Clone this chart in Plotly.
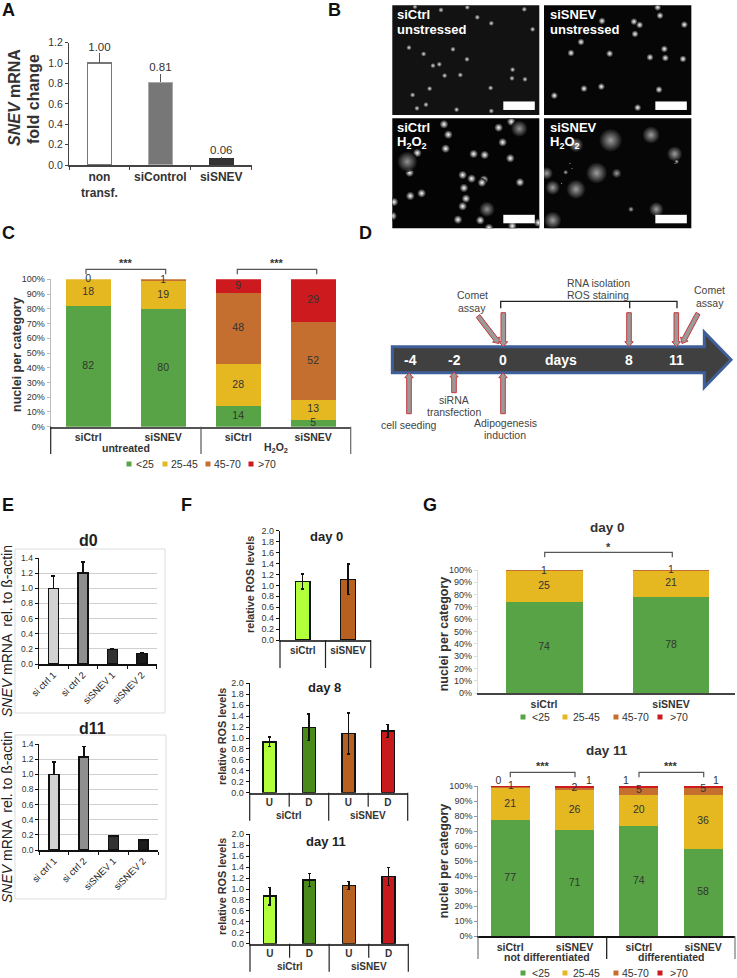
import plotly.graph_objects as go

W, H = 737, 978
FONT = "Liberation Sans"
DARK = "#333333"

# A: SNEV knockdown
a_labels = ["<b>non<br>transf.</b>", "<b>siControl</b>", "<b>siSNEV</b>"]
a_values = [1.00, 0.81, 0.06]
a_err = [0.095, 0.085, 0.015]
a_text = ["1.00", "0.81", "0.06"]
a_colors = ["#ffffff", "#777777", "#333333"]
a_edges = ["#777777", "#aaaaaa", "#333333"]

# C: comet categories, untreated / H2O2
cat_names = ["<25", "25-45", "45-70", ">70"]
cat_colors = ["#58a345", "#e5b822", "#c46e2f", "#cc1a1e"]
pct_ticks = [0, 10, 20, 30, 40, 50, 60, 70, 80, 90, 100]
pct_labels = ["0%", "10%", "20%", "30%", "40%", "50%", "60%", "70%", "80%", "90%", "100%"]
c_labels = ["<b>siCtrl</b>", "<b>siSNEV</b>", "<b>siCtrl</b>", "<b>siSNEV</b>"]
c_lt25 = [82.0, 79.7, 14.0, 4.8]
c_25_45 = [18.0, 19.3, 28.6, 13.3]
c_45_70 = [0.0, 1.0, 48.4, 52.9]
c_gt70 = [0.0, 0.0, 9.0, 29.0]
c_text = [["82", "80", "14", "5"], ["18", "19", "28", "13"], ["0", "1", "48", "52"], [None, None, "9", "29"]]

# E: qPCR
e_labels = ["si ctrl 1", "si ctrl 2", "siSNEV 1", "siSNEV 2"]
e_colors = ["#d2d2d2", "#8f8f8f", "#333333", "#1c1c1c"]
e_d0 = [1.00, 1.20, 0.19, 0.14]
e_d0_err = [0.16, 0.145, 0.012, 0.012]
e_d11 = [1.00, 1.23, 0.185, 0.13]
e_d11_err = [0.16, 0.135, 0.008, 0.012]

# F: ROS
f_day0_labels = ["<b>siCtrl</b>", "<b>siSNEV</b>"]
f_day0 = [1.07, 1.11]
f_day0_err = [0.14, 0.28]
f_day0_colors = ["#b2ff3c", "#b8601f"]
f_ud_labels = ["<b>U</b>", "<b>D</b>", "<b>U</b>", "<b>D</b>"]
f_colors = ["#b2ff3c", "#4a8a1a", "#b8601f", "#c8191c"]
f_day8 = [0.93, 1.195, 1.085, 1.13]
f_day8_err = [0.09, 0.245, 0.375, 0.12]
f_day11 = [0.87, 1.165, 1.065, 1.23]
f_day11_err = [0.16, 0.12, 0.07, 0.165]

# G: comet categories during differentiation
g0_labels = ["<b>siCtrl</b>", "<b>siSNEV</b>"]
g0_lt25 = [74.3, 78.4]
g0_25_45 = [25.0, 21.0]
g0_45_70 = [0.7, 0.6]
g0_text = [["74", "78"], ["25", "21"]]
g0_top_text = ["1", "1"]
g11_labels = ["<b>siCtrl</b>", "<b>siSNEV</b>", "<b>siCtrl</b>", "<b>siSNEV</b>"]
g11_lt25 = [77.4, 70.5, 73.4, 58.3]
g11_25_45 = [21.3, 26.6, 20.6, 35.9]
g11_45_70 = [1.0, 2.2, 4.7, 4.7]
g11_gt70 = [0.3, 0.7, 1.3, 1.1]
g11_text = [["77", "71", "74", "58"], ["21", "26", "20", "36"]]
g11_top_x = [-0.185, 0.01, 1.0, 1.225, 1.8, 2.0, 3.0, 3.2]
g11_top_y = [103, 100, 98.4, 103, 103, 97, 97.5, 103]
g11_top_text = ["0", "1", "2", "1", "1", "5", "5", "1"]

# B: nuclei seen in the micrographs (image units)
b1_x = [135, 213, 292, 463, 322, 364, 488, 117, 161, 249, 291, 189, 208, 224, 271, 428, 426, 465, 179, 362, 128, 168, 141, 260, 364]
b1_y = [20, 30, 22, 28, 52, 70, 88, 143, 162, 148, 178, 197, 193, 227, 225, 209, 235, 238, 266, 264, 285, 314, 325, 329, 333]
b2_x = [863, 870, 696, 792, 809, 943, 795, 633, 603, 719, 883, 840, 886, 939, 642, 694, 867, 553, 803]
b2_y = [22, 47, 63, 65, 75, 74, 102, 126, 159, 161, 147, 172, 174, 177, 266, 260, 269, 287, 323]
b3_x = [222, 235, 424, 386, 398, 227, 142, 311, 344, 421, 119, 278, 305, 342, 336, 450, 282, 121, 155, 288, 278, 72, 264, 331, 68, 505, 357, 427]
b3_y = [373, 404, 365, 383, 427, 446, 459, 462, 465, 475, 518, 525, 536, 539, 548, 547, 564, 588, 580, 596, 619, 606, 659, 661, 648, 668, 684, 678]
b3_big_x = [448, 112, 351]
b3_big_y = [386, 485, 628]
b3_big_s = [17, 21, 16]
b4_x = [920, 587, 783, 600, 606, 575, 915]
b4_y = [485, 517, 628, 490, 505, 550, 490]
b4_s = [5, 5, 6, 2, 2, 2, 2]
b4_big_x = [722, 843, 618, 914, 680, 530, 740, 548, 618, 859, 548]
b4_big_y = [421, 405, 435, 462, 519, 520, 520, 563, 568, 628, 661]
b4_big_s = [24, 18, 15, 16, 22, 13, 10, 15, 20, 15, 18]

fig = go.Figure()
layout_axes = {}
shapes = []
annotations = []
axis_count = 1


def new_axes(x0, x1, ytop, ybot, xrange, yrange, xopts=None, yopts=None):
    """Axes placed by page pixels; returns the trace refs"""
    global axis_count
    axis_count += 1
    n = axis_count
    xa = dict(domain=[x0 / W, x1 / W], anchor=f"y{n}", range=xrange, showgrid=False, zeroline=False, visible=False)
    ya = dict(domain=[1 - ybot / H, 1 - ytop / H], anchor=f"x{n}", range=yrange, showgrid=False, zeroline=False, visible=False)
    if xopts:
        xa.update(visible=True, **xopts)
    if yopts:
        ya.update(visible=True, **yopts)
    layout_axes[f"xaxis{n}"] = xa
    layout_axes[f"yaxis{n}"] = ya
    return f"x{n}", f"y{n}"


def note(x, y, text, size=10.5, color=DARK, angle=0, anchor="center"):
    annotations.append(dict(x=x, y=y, xref="x", yref="y", text=text, showarrow=False, textangle=angle, xanchor=anchor,
                            yanchor="middle", font=dict(family=FONT, size=size, color=color)))


def line(x0, y0, x1, y1, color="#444444", width=1.2):
    shapes.append(dict(type="line", x0=x0, y0=y0, x1=x1, y1=y1, xref="x", yref="y", line=dict(color=color, width=width)))


def bracket(x0, x1, ytop, ybot, color="#555555", width=1.2):
    shapes.append(dict(type="path", path=f"M{x0},{ybot} L{x0},{ytop} L{x1},{ytop} L{x1},{ybot}", xref="x", yref="y",
                       line=dict(color=color, width=width)))


def x_opts(vals, labels, size, boundaries=None, line_color="#444444", angle=0, color=DARK):
    opts = dict(tickmode="array", tickvals=vals, ticktext=labels, ticks="", showline=True, linecolor=line_color, linewidth=1.5,
                tickangle=angle, tickfont=dict(family=FONT, size=size, color=color))
    if boundaries:
        opts["minor"] = dict(tickmode="array", tickvals=boundaries, ticks="outside", ticklen=3, tickcolor=line_color, tickwidth=1.2)
    return opts


def y_opts(vals, size, labels=None, line_color="#444444", grid=False):
    opts = dict(tickmode="array", tickvals=vals, tickformat=".1f", ticks="outside", ticklen=3, tickwidth=1,
                tickcolor=line_color, showline=True, linecolor=line_color, linewidth=1.2, showgrid=grid, gridcolor="#cfcfcf",
                tickfont=dict(family=FONT, size=size, color=DARK))
    if labels:
        opts["ticktext"] = labels
    return opts


def text_trace(xref, yref, xs, ys, labels, size=10.5, pos="middle center"):
    keep = [i for i, t in enumerate(labels) if t]
    fig.add_trace(go.Scatter(x=[xs[i] for i in keep], y=[ys[i] for i in keep], text=[labels[i] for i in keep], mode="text", textposition=pos,
                             cliponaxis=False, hoverinfo="skip", textfont=dict(family=FONT, size=size, color=DARK), xaxis=xref, yaxis=yref))


def bars(xref, yref, values, err, colors, width, edge="#111111", edge_w=1.5, err_w=1.5, cap=2, lower=True, err_color="#111111"):
    xs = list(range(len(values)))
    fig.add_trace(go.Bar(x=xs, y=values, width=width, xaxis=xref, yaxis=yref, marker=dict(color=colors, line=dict(color=edge, width=edge_w)),
                         error_y=dict(type="data", symmetric=False, array=err, arrayminus=err if lower else [0] * len(err),
                                      color=err_color, thickness=err_w, width=cap)))


def stacks(xref, yref, series, width):
    xs = list(range(len(series[0])))
    for vals, color in zip(series, cat_colors):
        fig.add_trace(go.Bar(x=xs, y=vals, width=width, xaxis=xref, yaxis=yref, marker=dict(color=color, line=dict(width=0))))


def spots(xref, yref, xs, ys, sizes, color, fade="#000000"):
    # for a radial gradient plotly paints gradient.color in the centre
    fig.add_trace(go.Scatter(x=xs, y=ys, mode="markers", xaxis=xref, yaxis=yref, hoverinfo="skip",
                             marker=dict(size=sizes, color=fade, line=dict(width=0), gradient=dict(type="radial", color=color))))


def block_arrow(x0, y0, x1, y1, shaft=4.6, head=8.5, head_len=5):
    # gray arrow with red outline, from (x0,y0) with the tip at (x1,y1)
    dx, dy = x1 - x0, y1 - y0
    d = (dx * dx + dy * dy) ** 0.5
    ux, uy = dx / d, dy / d
    px, py = -uy, ux
    bx, by = x1 - ux * head_len, y1 - uy * head_len
    pts = [(x0 + px * shaft / 2, y0 + py * shaft / 2), (bx + px * shaft / 2, by + py * shaft / 2), (bx + px * head / 2, by + py * head / 2),
           (x1, y1), (bx - px * head / 2, by - py * head / 2), (bx - px * shaft / 2, by - py * shaft / 2), (x0 - px * shaft / 2, y0 - py * shaft / 2)]
    path = "M" + " L".join(f"{a:.1f},{b:.1f}" for a, b in pts) + " Z"
    shapes.append(dict(type="path", path=path, xref="x", yref="y", fillcolor="#9a9a9a", line=dict(color="#c8383c", width=1)))


def legend_row(y, square_x, text_x, size=10.5):
    fig.add_trace(go.Scatter(x=square_x, y=[y] * 4, mode="markers", hoverinfo="skip", xaxis="x", yaxis="y",
                             marker=dict(symbol="square", size=5, color=cat_colors)))
    for tx, name in zip(text_x, cat_names):
        note(tx - 1.5, y, name.replace("<", "&lt;"), size=size, anchor="left")


# panel letters
for lx, ly, letter in [(0, 10, "A"), (326, 10, "B"), (0, 233, "C"), (357, 233, "D"), (0, 505, "E"), (179, 505, "F"), (421, 505, "G")]:
    note(lx, ly, f"<b>{letter}</b>", size=18, color="#111111", anchor="left")

# A
xr, yr = new_axes(69, 251.7, 42.7, 165, [-0.5, 2.5], [0, 1.2],
                  x_opts([0, 1, 2], a_labels, 12, [-0.5, 0.5, 1.5, 2.5]), y_opts([0, 0.2, 0.4, 0.6, 0.8, 1.0, 1.2], 10.5))
fig.add_trace(go.Bar(x=[0, 1, 2], y=a_values, width=0.39, xaxis=xr, yaxis=yr, marker=dict(color=a_colors, line=dict(color=a_edges, width=1.2)),
                     error_y=dict(type="data", symmetric=False, array=a_err, arrayminus=[0, 0, 0], color="#555555", thickness=1, width=0)))
text_trace(xr, yr, [0, 1, 2], [v + e for v, e in zip(a_values, a_err)], a_text, size=11.5, pos="top center")
note(14, 98, "<b><i>SNEV</i> mRNA</b>", size=16, angle=-90)
note(33, 99, "<b>fold change</b>", size=16, angle=-90)

# B
panels = [(392.3, 5.3, 67, 508, 16, 345, "#121212"), (544, 5.3, 522, 964, 16, 345, "#060606"),
          (392.3, 118.3, 67, 508, 355, 685, "#040404"), (544, 118.3, 522, 964, 355, 685, "#060606")]
axes_b = []
for px0, py0, ix0, ix1, iy0, iy1, bg in panels:
    w, h = (ix1 - ix0) / 3, (iy1 - iy0) / 3
    shapes.append(dict(type="rect", x0=px0, x1=px0 + w, y0=py0, y1=py0 + h, xref="x", yref="y", fillcolor=bg, line=dict(width=0), layer="below"))
    axes_b.append(new_axes(px0, px0 + w, py0, py0 + h, [ix0, ix1], [iy1, iy0]))
    bar_x1 = px0 + w - 4.5
    shapes.append(dict(type="rect", x0=bar_x1 - 31.5, x1=bar_x1, y0=py0 + h - 13.5, y1=py0 + h - 5, xref="x", yref="y", fillcolor="#ffffff", line=dict(width=0)))
spots(*axes_b[0], b1_x, b1_y, 5.5, "#e0e0e0", fade="#121212")
spots(*axes_b[1], b2_x, b2_y, 7.5, "#ffffff")
spots(*axes_b[2], b3_x, b3_y, 9, "#ffffff")
spots(*axes_b[2], b3_big_x, b3_big_y, b3_big_s, "#d0d0d0")
spots(*axes_b[3], b4_big_x, b4_big_y, b4_big_s, "#e0e0e0")
spots(*axes_b[3], b4_x, b4_y, b4_s, "#ffffff")
for bx, by, t1, t2 in [(394.5, 14.3, "siCtrl", "unstressed"), (548.2, 14.3, "siSNEV", "unstressed"),
                       (394.5, 127, "siCtrl", "H<sub>2</sub>O<sub>2</sub>"), (548.2, 127, "siSNEV", "H<sub>2</sub>O<sub>2</sub>")]:
    note(bx, by, f"<b>{t1}</b>", size=13, color="#ffffff", anchor="left")
    note(bx, by + 15, f"<b>{t2}</b>", size=13, color="#ffffff", anchor="left")

# C
xr, yr = new_axes(50.7, 350.7, 279.3, 426.7, [-0.5, 3.5], [0, 100],
                  x_opts([0, 1, 2, 3], c_labels, 10.5, line_color="#555555"),
                  y_opts(pct_ticks, 9, labels=pct_labels, line_color="#bbbbbb"))
c_series = [c_lt25, c_25_45, c_45_70, c_gt70]
stacks(xr, yr, c_series, 0.6)
for i, vals in enumerate(c_series):
    mids = [sum(s[k] for s in c_series[:i]) + vals[k] / 2 for k in range(4)]
    text_trace(xr, yr, [0, 1, 2, 3], mids, c_text[i])
note(17, 355, "<b>nuclei per category</b>", size=12.5, angle=-90)
note(125.7, 448.3, "<b>untreated</b>", size=10.5)
note(276, 448.3, "<b>H<sub>2</sub>O<sub>2</sub></b>", size=10.5)
line(50.7, 426.7, 50.7, 454, color="#222222")
line(201, 426.7, 201, 454, color="#555555")
line(350.7, 426.7, 350.7, 454, color="#666666")
bracket(86, 165.7, 269.3, 274.3)
bracket(237.3, 316.7, 269.3, 274.3)
note(125.7, 263, "<b>***</b>", size=11)
note(277, 263, "<b>***</b>", size=11)
legend_row(464, [129, 165, 208, 251], [135, 170.7, 213.7, 257])

# D
shapes.append(dict(type="path", path="M392.3,346.7 L704.3,346.7 L704.3,332.3 L731,359.7 L704.3,387.3 L704.3,372.7 L392.3,372.7 Z", xref="x", yref="y",
                   fillcolor="#404040", line=dict(color="#3f5f9a", width=3)))
for dx, dy, dt in [(410, 360.3, "-4"), (454.7, 360.3, "-2"), (503.3, 360.3, "0"), (561.3, 360.3, "days"), (629.3, 360.3, "8"), (676.3, 360.3, "11")]:
    note(dx, dy, f"<b>{dt}</b>", size=14, color="#ffffff")
for ax0, ay0, ax1, ay1 in [(503.3, 312.7, 503.3, 346.7), (629, 312.7, 629, 346.7), (676.3, 312.7, 676.3, 346.7),
                           (409, 413.7, 409, 372.7), (454, 392.7, 454, 372), (503, 413.7, 503, 372.7),
                           (478, 316, 499, 343.5), (698, 313.5, 682, 343.5)]:
    block_arrow(ax0, ay0, ax1, ay1)
shapes.append(dict(type="path", path="M500.7,308.3 L500.7,301.3 L677,301.3 L677,308.3 M629.7,301.3 L629.7,308.3", xref="x", yref="y",
                   line=dict(color="#222222", width=1.3)))
for dx, dy, dt in [(598, 283, "RNA isolation"), (597.5, 295.3, "ROS staining"), (472, 295, "Comet"), (472, 307.7, "assay"), (709.7, 290.3, "Comet"),
                   (709.7, 302.7, "assay"), (454.3, 400, "siRNA"), (454.3, 412.3, "transfection"), (409, 425, "cell seeding"),
                   (505, 423.3, "Adipogenesis"), (505, 435.3, "induction")]:
    note(dx, dy, dt, size=10.5, color="#444444")

# E
e_ticks = [0, 0.2, 0.4, 0.6, 0.8, 1.0, 1.2, 1.4]
for fx0, fy0, fx1, fy1, ax0, ax1, ay0, ay1, vals, errs, ttl, tx, ty, ey in [
        (15, 549, 165, 713, 38.7, 156.7, 558, 664, e_d0, e_d0_err, "d0", 88, 540, 631),
        (15, 735, 166, 899, 39.3, 158, 744, 850, e_d11, e_d11_err, "d11", 92, 728, 817)]:
    shapes.append(dict(type="rect", x0=fx0, x1=fx1, y0=fy0, y1=fy1, xref="x", yref="y", line=dict(color="#dddddd", width=1), layer="below"))
    xr, yr = new_axes(ax0, ax1, ay0, ay1, [-0.5, 3.5], [0, 1.4],
                      x_opts([0, 1, 2, 3], e_labels, 9.5, [-0.5, 0.5, 1.5, 2.5, 3.5], line_color="#111111", angle=-45, color="#222222"),
                      y_opts(e_ticks, 8.5, line_color="#111111", grid=True))
    bars(xr, yr, vals, errs, e_colors, 0.33, lower=False, cap=2)
    note(tx, ty, f"<b>{ttl}</b>", size=16, color="#222222")
    note(7, ey, "<i>SNEV</i> mRNA  rel. to ß-actin", size=14, color="#222222", angle=-90)

# F
f_ticks = [0, 0.2, 0.4, 0.6, 0.8, 1.0, 1.2, 1.4, 1.6, 1.8, 2.0]
xr, yr = new_axes(280, 370.7, 530.7, 640, [-0.5, 1.5], [0, 2.0], x_opts([0, 1], f_day0_labels, 10), y_opts(f_ticks, 9, line_color="#111111"))
bars(xr, yr, f_day0, f_day0_err, f_day0_colors, 0.325, cap=1.5)
note(326, 536, "<b>day 0</b>", size=13, color="#222222")
note(250, 585, "<b>relative ROS levels</b>", size=10.8, angle=-90)
for lx in [280, 325.5, 370.7]:
    line(lx, 640, lx, 668, color="#222222")

for ax0, ax1, ay0, ay1, vals, errs, ttl, tx, ty, ycen in [
        (249.7, 407.7, 683.3, 792.7, f_day8, f_day8_err, "day 8", 324.7, 687, 737),
        (250, 408.3, 834.3, 943.7, f_day11, f_day11_err, "day 11", 326, 841.7, 887)]:
    xr, yr = new_axes(ax0, ax1, ay0, ay1, [-0.5, 3.5], [0, 2.0], x_opts([0, 1, 2, 3], f_ud_labels, 10), y_opts(f_ticks, 9, line_color="#111111"))
    bars(xr, yr, vals, errs, f_colors, 0.32, cap=1.5)
    note(tx, ty, f"<b>{ttl}</b>", size=13, color="#222222")
    note(222, ycen, "<b>relative ROS levels</b>", size=10.8, angle=-90)
    mid = (ax0 + ax1) / 2
    quarter = (ax1 - ax0) / 4
    for lx in [ax0 + quarter, ax1 - quarter]:
        line(lx, ay1, lx, ay1 + 14, color="#222222")
    for lx in [ax0, mid, ax1]:
        line(lx, ay1, lx, ay1 + 28, color="#222222")
    note(ax0 + quarter, ay1 + 23, "<b>siCtrl</b>", size=10)
    note(ax1 - quarter, ay1 + 23, "<b>siSNEV</b>", size=10)

# G day 0
xr, yr = new_axes(478, 735, 570, 693.3, [-0.52, 1.504], [0, 100],
                  x_opts([0, 1], g0_labels, 10.5, line_color="#444444"),
                  y_opts(pct_ticks, 9, labels=pct_labels, line_color="#dddddd"))
g0_series = [g0_lt25, g0_25_45, g0_45_70]
stacks(xr, yr, g0_series, 0.606)
text_trace(xr, yr, [0, 1], [g / 2 for g in g0_lt25], g0_text[0])
text_trace(xr, yr, [0, 1], [g + y / 2 for g, y in zip(g0_lt25, g0_25_45)], g0_text[1])
text_trace(xr, yr, [0, 1], [99, 100], g0_top_text)
note(607, 527.7, "<b>day 0</b>", size=13.5)
bracket(544.7, 672.3, 552.3, 557.3)
note(608.3, 546.7, "<b>*</b>", size=11)
note(444.3, 634, "<b>nuclei per category</b>", size=12.5, angle=-90)
legend_row(717, [523, 565, 616, 660], [531, 572.7, 621.7, 669.3])

# G day 11
xr, yr = new_axes(478.3, 735, 786, 936.3, [-0.496, 3.496], [0, 100],
                  x_opts([0, 1, 2, 3], g11_labels, 10.5, line_color="#111111"),
                  y_opts(pct_ticks, 9, labels=pct_labels, line_color="#999999"))
g11_series = [g11_lt25, g11_25_45, g11_45_70, g11_gt70]
stacks(xr, yr, g11_series, 0.607)
text_trace(xr, yr, [0, 1, 2, 3], [g / 2 for g in g11_lt25], g11_text[0])
text_trace(xr, yr, [0, 1, 2, 3], [g + y / 2 for g, y in zip(g11_lt25, g11_25_45)], g11_text[1])
# the small labels stand above 100%, so they get a taller twin of this plot area
xt, yt = new_axes(478.3, 735, 936.3 - 150.3 * 1.06, 936.3, [-0.496, 3.496], [0, 106])
text_trace(xt, yt, g11_top_x, g11_top_y, g11_top_text)
note(607.3, 750, "<b>day 11</b>", size=13.5)
bracket(510.3, 575, 772.3, 777.3)
bracket(639, 703.7, 772.3, 777.3)
note(542.7, 766, "<b>***</b>", size=11)
note(671, 766, "<b>***</b>", size=11)
note(444.3, 861, "<b>nuclei per category</b>", size=12.5, angle=-90)
note(547, 956.7, "<b>not differentiated</b>", size=10.5)
note(671, 956.7, "<b>differentiated</b>", size=10.5)
line(478, 936.3, 478, 959, color="#777777")
line(606.7, 936.3, 606.7, 959, color="#111111")
line(735, 936.3, 735, 959, color="#777777")
legend_row(973, [523, 565, 616, 660], [531, 572.7, 621.7, 669.3])

fig.update_layout(
    width=W, height=H, margin=dict(l=0, r=0, t=0, b=0, autoexpand=False), barmode="stack", showlegend=False, autosize=False,
    plot_bgcolor="rgba(0,0,0,0)", paper_bgcolor="white", font=dict(family=FONT, color=DARK),
    xaxis=dict(domain=[0, 1], range=[0, W], visible=False, fixedrange=True),
    yaxis=dict(domain=[0, 1], range=[H, 0], visible=False, fixedrange=True),
    shapes=shapes, annotations=annotations, **layout_axes
)
fig.write_html("out.html", config={"displayModeBar": False},
               post_script="document.body.style.margin='0';document.body.style.overflow='hidden';")
